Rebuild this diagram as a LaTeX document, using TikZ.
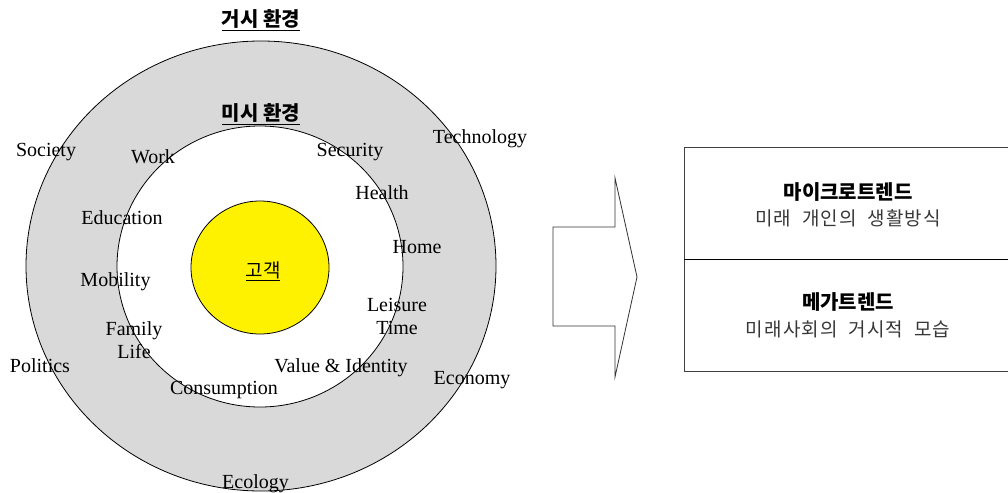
\documentclass[tikz,border=0pt]{standalone}
\usepackage{fontspec}
\setmainfont{Liberation Serif}
\newfontfamily\krfont{Noto Sans CJK KR}
\newfontfamily\krsubfont[LetterSpace=6,WordSpace=2]{Noto Sans CJK KR}
\definecolor{Ringgray}{RGB}{217,217,217}
\definecolor{Subgray}{RGB}{55,55,55}
\tikzset{
  trend/.style={font=\fontsize{20}{23.5}\selectfont, align=center, inner sep=0pt, yshift=-1.5pt},
  krtitle/.style={font=\krfont\bfseries\fontsize{20}{22}\selectfont, inner sep=0pt},
  krsub/.style={font=\krsubfont\fontsize{19}{22}\selectfont, text=Subgray, inner sep=0pt}
}

\begin{document}
\begin{tikzpicture}[x=1pt,y=-1pt]
\useasboundingbox (0,0) rectangle (1008,492);
%% rings
\draw[line width=0.8, fill=Ringgray] (261,266) ellipse [x radius=235pt, y radius=225pt];
\draw[line width=0.8, fill=white] (260,266.5) ellipse [x radius=143pt, y radius=140.5pt];
\draw[line width=0.8, fill=yellow] (260,267.5) ellipse [x radius=69pt, y radius=66.5pt];
\node[krtitle] (macro) at (261,20) {\underline{거시 환경}};
\node[krtitle] (micro) at (261,114) {\underline{미시 환경}};
\node[font=\krfont\fontsize{19}{22}\selectfont, inner sep=0pt] (customer) at (263,271) {\underline{고객}};
%% outer ring
\node[trend] (society) at (46,151) {Society};
\node[trend] (technology) at (480,137) {Technology};
\node[trend] (politics) at (40,364) {Politics};
\node[trend] (economy) at (472,379) {Economy};
\node[trend] (ecology) at (255.5,482) {Ecology};
%% inner ring
\node[trend] (work) at (153,155) {Work};
\node[trend] (education) at (122,216) {Education};
\node[trend] (mobility) at (115.5,280) {Mobility};
\node[trend] (family) at (134,338.5) {Family\\Life};
\node[trend] (consumption) at (224,389) {Consumption};
\node[trend] (security) at (350,151) {Security};
\node[trend] (health) at (382,191) {Health};
\node[trend] (home) at (417,246) {Home};
\node[trend] (leisure) at (397,315) {Leisure\\Time};
\node[trend] (value) at (341,366) {Value \& Identity};
%% arrow
\draw[line width=0.8, black!80] (553,227) -- (615,227) -- (615,178) -- (637,277)
  -- (615,377) -- (615,326) -- (553,326) -- cycle;
%% trend box
\draw[line width=1, black!75] (1008,147) -- (684,147) -- (684,371) -- (1008,371);
\draw[line width=1] (684,259) -- (1008,259);
\node[krtitle] (microhead) at (848,192) {마이크로트렌드};
\node[krsub] (microsub) at (848,218) {미래 개인의 생활방식};
\node[krtitle] (megahead) at (848,302) {메가트렌드};
\node[krsub] (megasub) at (848,329) {미래사회의 거시적 모습};
\end{tikzpicture}
\end{document}
